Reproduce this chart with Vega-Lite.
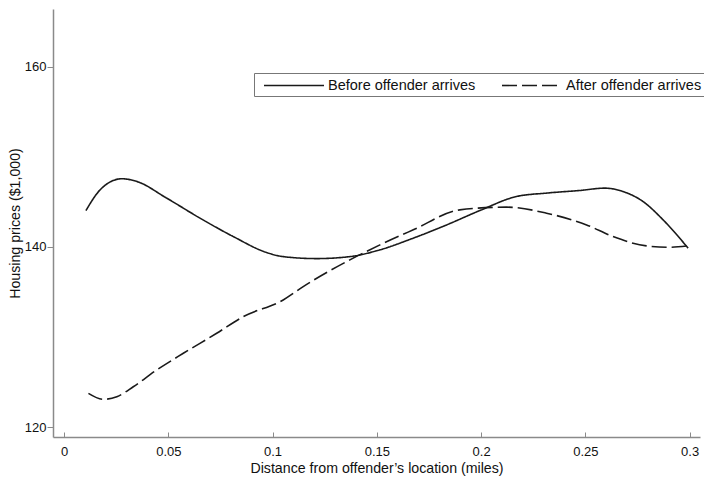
{
  "$schema": "https://vega.github.io/schema/vega-lite/v6.json",
  "width": 647,
  "height": 428,
  "autosize": "none",
  "padding": {"left": 53, "top": 9, "right": 4, "bottom": 40},
  "background": "white",
  "config": {
    "view": {"stroke": null},
    "font": "Liberation Sans",
    "axis": {"grid": false, "domainColor": "#8a8a8a", "tickColor": "#8a8a8a", "labelColor": "#111", "titleColor": "#111", "labelFont": "Liberation Sans", "titleFont": "Liberation Sans", "titleFontWeight": "normal", "labelFontSize": 13, "titleFontSize": 14.2, "domainWidth": 1.5, "tickWidth": 1}
  },
  "data": {"values": [
    {"d": 0.0105, "p": 144.03, "s": "Before offender arrives"},
    {"d": 0.0173, "p": 146.33, "s": "Before offender arrives"},
    {"d": 0.0277, "p": 147.56, "s": "Before offender arrives"},
    {"d": 0.0349, "p": 147.26, "s": "Before offender arrives"},
    {"d": 0.0492, "p": 145.41, "s": "Before offender arrives"},
    {"d": 0.0652, "p": 143.19, "s": "Before offender arrives"},
    {"d": 0.0812, "p": 141.14, "s": "Before offender arrives"},
    {"d": 0.0972, "p": 139.37, "s": "Before offender arrives"},
    {"d": 0.1051, "p": 138.92, "s": "Before offender arrives"},
    {"d": 0.1211, "p": 138.70, "s": "Before offender arrives"},
    {"d": 0.1371, "p": 138.92, "s": "Before offender arrives"},
    {"d": 0.1515, "p": 139.67, "s": "Before offender arrives"},
    {"d": 0.1675, "p": 140.97, "s": "Before offender arrives"},
    {"d": 0.1835, "p": 142.44, "s": "Before offender arrives"},
    {"d": 0.1994, "p": 144.03, "s": "Before offender arrives"},
    {"d": 0.2170, "p": 145.59, "s": "Before offender arrives"},
    {"d": 0.2314, "p": 145.97, "s": "Before offender arrives"},
    {"d": 0.2474, "p": 146.26, "s": "Before offender arrives"},
    {"d": 0.2593, "p": 146.52, "s": "Before offender arrives"},
    {"d": 0.2681, "p": 146.14, "s": "Before offender arrives"},
    {"d": 0.2777, "p": 145.03, "s": "Before offender arrives"},
    {"d": 0.2873, "p": 143.00, "s": "Before offender arrives"},
    {"d": 0.2993, "p": 139.86, "s": "Before offender arrives"},
    {"d": 0.0117, "p": 123.74, "s": "After offender arrives"},
    {"d": 0.0188, "p": 123.08, "s": "After offender arrives"},
    {"d": 0.0253, "p": 123.37, "s": "After offender arrives"},
    {"d": 0.0332, "p": 124.48, "s": "After offender arrives"},
    {"d": 0.0444, "p": 126.33, "s": "After offender arrives"},
    {"d": 0.0572, "p": 128.19, "s": "After offender arrives"},
    {"d": 0.0732, "p": 130.41, "s": "After offender arrives"},
    {"d": 0.0860, "p": 132.26, "s": "After offender arrives"},
    {"d": 0.1051, "p": 134.11, "s": "After offender arrives"},
    {"d": 0.1147, "p": 135.59, "s": "After offender arrives"},
    {"d": 0.1371, "p": 138.56, "s": "After offender arrives"},
    {"d": 0.1515, "p": 140.22, "s": "After offender arrives"},
    {"d": 0.1675, "p": 141.89, "s": "After offender arrives"},
    {"d": 0.1898, "p": 144.11, "s": "After offender arrives"},
    {"d": 0.2122, "p": 144.41, "s": "After offender arrives"},
    {"d": 0.2314, "p": 143.74, "s": "After offender arrives"},
    {"d": 0.2506, "p": 142.44, "s": "After offender arrives"},
    {"d": 0.2633, "p": 141.14, "s": "After offender arrives"},
    {"d": 0.2793, "p": 140.11, "s": "After offender arrives"},
    {"d": 0.2905, "p": 139.96, "s": "After offender arrives"},
    {"d": 0.2993, "p": 140.11, "s": "After offender arrives"}
  ]},
  "mark": {"type": "line", "interpolate": "monotone", "color": "#1a1a1a", "strokeWidth": 1.6},
  "encoding": {
    "x": {"field": "d", "type": "quantitative", "title": "Distance from offender\u2019s location (miles)",
      "scale": {"domain": [-0.0053, 0.305], "nice": false, "zero": false},
      "axis": {"values": [0, 0.05, 0.1, 0.15, 0.2, 0.25, 0.3], "format": "~g", "labelPadding": 13, "tickSize": -5, "titlePadding": 3, "labelFlush": false}},
    "y": {"field": "p", "type": "quantitative", "title": "Housing prices ($1,000)",
      "scale": {"domain": [118.9, 166.4], "nice": false, "zero": false},
      "axis": {"values": [120, 140, 160], "tickSize": 6, "labelPadding": 1, "titlePadding": 2, "labelFlush": false}},
    "strokeDash": {"field": "s", "type": "nominal",
      "scale": {"domain": ["Before offender arrives", "After offender arrives"], "range": [[1, 0], [15, 5]]},
      "legend": {"title": null, "orient": "none", "legendX": 201, "legendY": 64, "direction": "horizontal",
        "strokeColor": "#777", "padding": 4, "symbolType": "M-4,0H4", "symbolSize": 225, "symbolOffset": 27.5, "symbolStrokeWidth": 1.6, "symbolStrokeColor": "#1a1a1a",
        "labelFontSize": 14.5, "labelFont": "Liberation Sans", "labelColor": "#111", "columnPadding": 20, "labelOffset": 25.5}}
  }
}
